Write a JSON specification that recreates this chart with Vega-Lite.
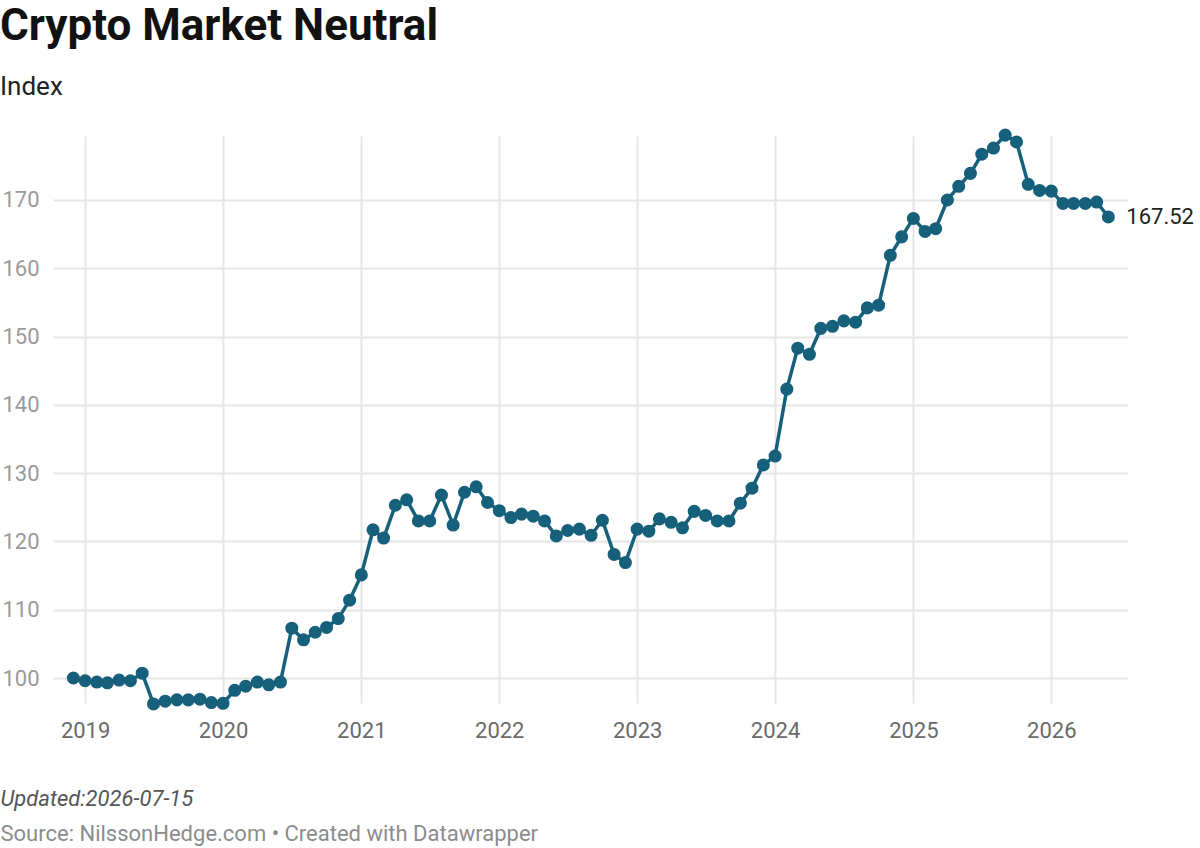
{
  "$schema": "https://vega.github.io/schema/vega-lite/v6.json",
  "width": 1075,
  "height": 567,
  "autosize": {"type": "none"},
  "padding": {"left": 53, "top": 136, "right": 72, "bottom": 145},
  "background": "#ffffff",
  "config": {
    "font": "Roboto",
    "view": {"stroke": null},
    "axis": {"gridColor": "#e6e6e6", "gridWidth": 2, "domain": false, "ticks": false}
  },
  "title": {
    "text": "Crypto Market Neutral",
    "subtitle": "Index",
    "anchor": "start",
    "frame": "group",
    "dx": -53,
    "fontSize": 44,
    "fontWeight": "bold",
    "color": "#111111",
    "subtitleFontSize": 26,
    "subtitleColor": "#222222",
    "subtitlePadding": 25,
    "offset": 28
  },
  "data": {
    "values": [
      {"date": "2018-12-01", "value": 100.0},
      {"date": "2019-01-01", "value": 99.6},
      {"date": "2019-02-01", "value": 99.4},
      {"date": "2019-03-01", "value": 99.3},
      {"date": "2019-04-01", "value": 99.7},
      {"date": "2019-05-01", "value": 99.6},
      {"date": "2019-06-01", "value": 100.7},
      {"date": "2019-07-01", "value": 96.2},
      {"date": "2019-08-01", "value": 96.6},
      {"date": "2019-09-01", "value": 96.8},
      {"date": "2019-10-01", "value": 96.8},
      {"date": "2019-11-01", "value": 96.9},
      {"date": "2019-12-01", "value": 96.4},
      {"date": "2020-01-01", "value": 96.3},
      {"date": "2020-02-01", "value": 98.2},
      {"date": "2020-03-01", "value": 98.8},
      {"date": "2020-04-01", "value": 99.4},
      {"date": "2020-05-01", "value": 99.0},
      {"date": "2020-06-01", "value": 99.4},
      {"date": "2020-07-01", "value": 107.3},
      {"date": "2020-08-01", "value": 105.6},
      {"date": "2020-09-01", "value": 106.7},
      {"date": "2020-10-01", "value": 107.4},
      {"date": "2020-11-01", "value": 108.7},
      {"date": "2020-12-01", "value": 111.4},
      {"date": "2021-01-01", "value": 115.1},
      {"date": "2021-02-01", "value": 121.7},
      {"date": "2021-03-01", "value": 120.5},
      {"date": "2021-04-01", "value": 125.3},
      {"date": "2021-05-01", "value": 126.1},
      {"date": "2021-06-01", "value": 123.0},
      {"date": "2021-07-01", "value": 123.0},
      {"date": "2021-08-01", "value": 126.8},
      {"date": "2021-09-01", "value": 122.4},
      {"date": "2021-10-01", "value": 127.2},
      {"date": "2021-11-01", "value": 128.0},
      {"date": "2021-12-01", "value": 125.7},
      {"date": "2022-01-01", "value": 124.5},
      {"date": "2022-02-01", "value": 123.5},
      {"date": "2022-03-01", "value": 124.0},
      {"date": "2022-04-01", "value": 123.7},
      {"date": "2022-05-01", "value": 123.0},
      {"date": "2022-06-01", "value": 120.8},
      {"date": "2022-07-01", "value": 121.6},
      {"date": "2022-08-01", "value": 121.8},
      {"date": "2022-09-01", "value": 120.9},
      {"date": "2022-10-01", "value": 123.1},
      {"date": "2022-11-01", "value": 118.1},
      {"date": "2022-12-01", "value": 116.9},
      {"date": "2023-01-01", "value": 121.8},
      {"date": "2023-02-01", "value": 121.5},
      {"date": "2023-03-01", "value": 123.3},
      {"date": "2023-04-01", "value": 122.8},
      {"date": "2023-05-01", "value": 122.0},
      {"date": "2023-06-01", "value": 124.4},
      {"date": "2023-07-01", "value": 123.8},
      {"date": "2023-08-01", "value": 123.0},
      {"date": "2023-09-01", "value": 123.0},
      {"date": "2023-10-01", "value": 125.6},
      {"date": "2023-11-01", "value": 127.8},
      {"date": "2023-12-01", "value": 131.2},
      {"date": "2024-01-01", "value": 132.5},
      {"date": "2024-02-01", "value": 142.3},
      {"date": "2024-03-01", "value": 148.3},
      {"date": "2024-04-01", "value": 147.4},
      {"date": "2024-05-01", "value": 151.2},
      {"date": "2024-06-01", "value": 151.5},
      {"date": "2024-07-01", "value": 152.3},
      {"date": "2024-08-01", "value": 152.1},
      {"date": "2024-09-01", "value": 154.2},
      {"date": "2024-10-01", "value": 154.6},
      {"date": "2024-11-01", "value": 161.9},
      {"date": "2024-12-01", "value": 164.6},
      {"date": "2025-01-01", "value": 167.3},
      {"date": "2025-02-01", "value": 165.4},
      {"date": "2025-03-01", "value": 165.8},
      {"date": "2025-04-01", "value": 170.0},
      {"date": "2025-05-01", "value": 172.0},
      {"date": "2025-06-01", "value": 173.9},
      {"date": "2025-07-01", "value": 176.7},
      {"date": "2025-08-01", "value": 177.6},
      {"date": "2025-09-01", "value": 179.5},
      {"date": "2025-10-01", "value": 178.5},
      {"date": "2025-11-01", "value": 172.3},
      {"date": "2025-12-01", "value": 171.4},
      {"date": "2026-01-01", "value": 171.3},
      {"date": "2026-02-01", "value": 169.5},
      {"date": "2026-03-01", "value": 169.5},
      {"date": "2026-04-01", "value": 169.5},
      {"date": "2026-05-01", "value": 169.7},
      {"date": "2026-06-01", "value": 167.52}
    ]
  },
  "encoding": {
    "x": {
      "field": "date",
      "type": "temporal",
      "scale": {
        "type": "utc",
        "domain": [
          {"year": 2018, "month": 10, "date": 8, "utc": true},
          {"year": 2026, "month": 7, "date": 23, "utc": true}
        ],
        "nice": false
      }
    },
    "y": {
      "field": "value",
      "type": "quantitative",
      "scale": {"domain": [96.34, 179.37], "nice": false, "zero": false},
      "axis": {
        "title": null,
        "values": [100, 110, 120, 130, 140, 150, 160, 170],
        "grid": true,
        "labelFontSize": 22,
        "labelColor": "#9a9a9a",
        "labelPadding": 14
      }
    }
  },
  "layer": [
    {
      "mark": {"type": "line", "color": "#17607b", "strokeWidth": 3.5},
      "encoding": {
        "x": {
          "field": "date",
          "type": "temporal",
          "axis": {
            "orient": "bottom",
            "values": [
              {"year": 2019, "utc": true}, {"year": 2020, "utc": true},
              {"year": 2021, "utc": true}, {"year": 2022, "utc": true},
              {"year": 2023, "utc": true}, {"year": 2024, "utc": true},
              {"year": 2025, "utc": true}, {"year": 2026, "utc": true}
            ],
            "format": "%Y",
            "grid": true,
            "labelFontSize": 22,
            "labelColor": "#6a6a6a",
            "labelPadding": 17,
            "title": "Updated:2026-07-15",
            "titleFontSize": 22,
            "titleFontStyle": "italic",
            "titleFontWeight": "normal",
            "titleColor": "#555555",
            "titleAnchor": "start",
            "titleAlign": "left",
            "titleBaseline": "alphabetic",
            "titleX": -53,
            "titleY": 102
          }
        }
      }
    },
    {
      "mark": {"type": "point", "filled": true, "opacity": 1, "color": "#17607b", "size": 170},
      "encoding": {
        "x": {"field": "date", "type": "temporal", "axis": null}
      }
    },
    {
      "transform": [{"filter": "datum.value === 167.52"}],
      "mark": {"type": "text", "align": "left", "baseline": "middle", "dx": 18, "fontSize": 22, "color": "#222222"},
      "encoding": {
        "text": {"field": "value", "type": "quantitative", "format": ".2f"},
        "x": {
          "field": "date",
          "type": "temporal",
          "axis": {
            "orient": "bottom",
            "labels": false,
            "grid": false,
            "title": "Source: NilssonHedge.com • Created with Datawrapper",
            "titleFontSize": 22,
            "titleFontWeight": "normal",
            "titleColor": "#8c8c8c",
            "titleAnchor": "start",
            "titleAlign": "left",
            "titleBaseline": "alphabetic",
            "titleX": -53,
            "titleY": 137
          }
        }
      }
    }
  ],
  "resolve": {"axis": {"x": "independent"}}
}
